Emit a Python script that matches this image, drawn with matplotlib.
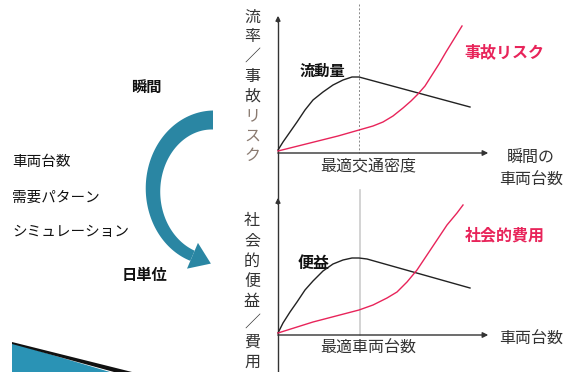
import numpy as np
import matplotlib
matplotlib.use("Agg")
import matplotlib.pyplot as plt
from matplotlib.patches import Polygon

plt.rcParams['font.family'] = ['Noto Sans CJK JP', 'DejaVu Sans']

# ---- data ----
top_flow_x = [0, 5, 12, 19, 27, 35, 45, 55, 65, 74, 81, 192]
top_flow_y = [3, 11, 21, 31, 43, 53, 61, 68, 73, 76, 76, 46]
top_risk_x = [0, 20, 40, 60, 81, 95, 105, 115, 125, 133, 140, 147, 154, 161, 168, 176, 184]
top_risk_y = [2, 7, 12, 17, 23, 27, 31, 37, 45, 52, 59, 67, 78, 89, 101, 114, 127]
bot_ben_x = [0, 5, 12, 19, 27, 35, 45, 55, 65, 74, 81, 89, 192]
bot_ben_y = [2, 12, 23, 33, 45, 54, 64, 71, 75, 77, 77, 76, 47]
bot_cost_x = [0, 35, 81, 95, 109, 119, 129, 139, 149, 159, 169, 179, 185]
bot_cost_y = [2, 13, 25, 30, 37, 43, 53, 65, 80, 95, 110, 122, 130]

top_ylabel = "流率／事故リスク"
bot_ylabel = "社会的便益／費用"
left_items = ["車両台数", "需要パターン", "シミュレーション"]

W, H = 575, 372
fig = plt.figure(figsize=(W / 100, H / 100), dpi=100)
fig.patch.set_facecolor('white')

# overlay in pixel coordinates
ov = fig.add_axes([0, 0, 1, 1])
ov.set_xlim(0, W)
ov.set_ylim(H, 0)
ov.axis('off')

AX_COL = '#333333'
BLACK = '#222222'
RED = '#e8245a'

# axes lines
ov.plot([278, 278], [372, 18], color=AX_COL, lw=1)
ov.annotate('', xy=(278, 13), xytext=(278, 25), arrowprops=dict(arrowstyle='-|>', color=AX_COL, lw=1, mutation_scale=7))
ov.annotate('', xy=(278, 195), xytext=(278, 207), arrowprops=dict(arrowstyle='-|>', color=AX_COL, lw=1, mutation_scale=7))
for yy in (153, 335):
    ov.annotate('', xy=(491, yy), xytext=(275, yy), arrowprops=dict(arrowstyle='-|>', color=AX_COL, lw=1, mutation_scale=8))
ov.plot([359, 359], [4, 153], color='#888888', lw=0.7, ls=(0, (2, 2)))
ov.plot([360, 360], [190, 335], color='#cccccc', lw=1.2)

# vertical y labels
for i, ch in enumerate(top_ylabel):
    col = '#8a7a70' if ch in 'リスク' else '#333333'
    ov.text(252, 17 + i * 19.8, ch, fontsize=11.5, ha='center', va='center', color=col)
for i, ch in enumerate(bot_ylabel):
    ov.text(252, 221 + i * 20.2, ch, fontsize=11.5, ha='center', va='center', color='#333333')

# x labels
ov.text(368, 166, "最適交通密度", fontsize=11.5, ha='center', va='center', color='#333333')
ov.text(531, 157, "瞬間の", fontsize=11.5, ha='center', va='center', color='#333333')
ov.text(531, 180, "車両台数", fontsize=11.5, ha='center', va='center', color='#333333')
ov.text(368, 348, "最適車両台数", fontsize=11.5, ha='center', va='center', color='#333333')
ov.text(531, 339, "車両台数", fontsize=11.5, ha='center', va='center', color='#333333')

# curve labels
ov.text(322, 71, "流動量", fontsize=11, fontweight='bold', ha='center', va='center', color='#111111')
ov.text(504, 52, "事故リスク", fontsize=11.5, fontweight='bold', ha='center', va='center', color=RED)
ov.text(314, 263, "便益", fontsize=11.5, fontweight='bold', ha='center', va='center', color='#111111')
ov.text(505, 235, "社会的費用", fontsize=11.5, fontweight='bold', ha='center', va='center', color=RED)

# left texts
ov.text(146, 87, "瞬間", fontsize=11, fontweight='bold', ha='center', va='center', color='#111111')
ov.text(144, 275, "日単位", fontsize=11, fontweight='bold', ha='center', va='center', color='#111111')
for txt, yy in zip(left_items, [162, 198, 232]):
    ov.text(12, yy, txt, fontsize=10.5, ha='left', va='center', color='#111111')

# curved arrow
cx, cy, a, b = 213, 190, 60, 70
th = np.linspace(0, np.deg2rad(160), 80)
px = cx - a * np.sin(th)
py = cy - b * np.cos(th)
dx = -a * np.cos(th)
dy = b * np.sin(th)
nrm = np.hypot(dx, dy)
nx, ny = dy / nrm, -dx / nrm
w = np.linspace(9.5, 5.5, len(th))
outer = np.column_stack([px + nx * w, py + ny * w])
inner = np.column_stack([px - nx * w, py - ny * w])
body = np.vstack([outer, inner[::-1]])
ov.add_patch(Polygon(body, closed=True, facecolor='#2a86a3', edgecolor='none'))
ex, ey = px[-1], py[-1]
tx, ty = dx[-1] / nrm[-1], dy[-1] / nrm[-1]
hw = 14
head = [(ex + nx[-1] * hw, ey + ny[-1] * hw), (ex - nx[-1] * hw, ey - ny[-1] * hw),
        (ex + tx * 20, ey + ty * 20)]
ov.add_patch(Polygon(head, closed=True, facecolor='#2a86a3', edgecolor='none'))

# bottom-left wedge
ov.add_patch(Polygon([(12, 343), (12, 372), (110, 372)], closed=True, facecolor='#2a93b5', edgecolor='none'))
ov.add_patch(Polygon([(12, 342), (132, 372), (114, 372), (12, 344)], closed=True, facecolor='#111111', edgecolor='none'))

# chart axes
def chart_axes(ox, oy, wpx, hpx):
    ax = fig.add_axes([ox / W, (H - oy) / H, wpx / W, hpx / H])
    ax.set_xlim(0, wpx)
    ax.set_ylim(0, hpx)
    ax.patch.set_alpha(0)
    ax.axis('off')
    return ax

ax1 = chart_axes(278, 153, 210, 138)
ax1.plot(top_flow_x, top_flow_y, color=BLACK, lw=1.0, clip_on=False)
ax1.plot(top_risk_x, top_risk_y, color=RED, lw=1.0, clip_on=False)

ax2 = chart_axes(278, 335, 210, 138)
ax2.plot(bot_ben_x, bot_ben_y, color=BLACK, lw=1.0, clip_on=False)
ax2.plot(bot_cost_x, bot_cost_y, color=RED, lw=1.0, clip_on=False)

fig.savefig("out.png", dpi=100, facecolor='white')
